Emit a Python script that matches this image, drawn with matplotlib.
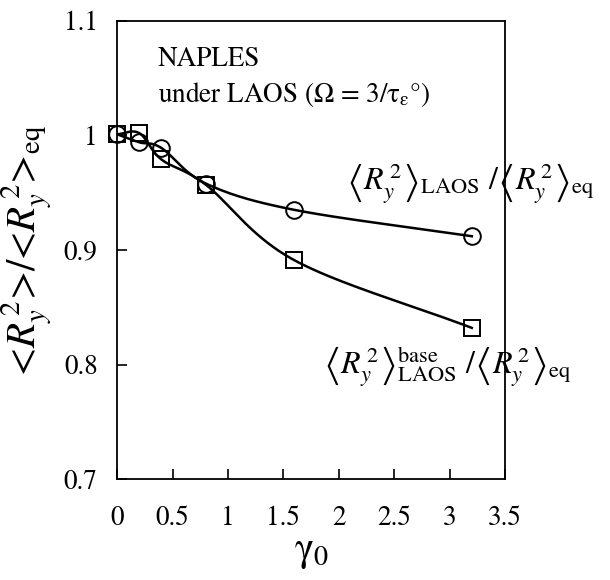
import numpy as np
import matplotlib
matplotlib.use('Agg')
import matplotlib.pyplot as plt

plt.rcParams['font.family'] = ['STIXGeneral', 'DejaVu Serif']
plt.rcParams['mathtext.fontset'] = 'stix'

# data
gamma0 = [0.0, 0.2, 0.4, 0.8, 1.6, 3.2]
ratio_laos = [1.001, 0.994, 0.989, 0.958, 0.935, 0.912]
ratio_base = [1.001, 1.002, 0.979, 0.957, 0.891, 0.832]

xticks = [0, 0.5, 1, 1.5, 2, 2.5, 3, 3.5]
xticklabels = ['0', '0.5', '1', '1.5', '2', '2.5', '3', '3.5']
yticks = [0.7, 0.8, 0.9, 1.0, 1.1]
yticklabels = ['0.7', '0.8', '0.9', '1', '1.1']


def smooth_line(x, y, n=40):
    # Catmull-Rom style smoothed line through the points (like a spreadsheet "smooth line")
    p = np.column_stack([x, y]).astype(float)
    p = np.vstack([p[0] - (p[1] - p[0]), p, p[-1] + (p[-1] - p[-2])])
    out = []
    t = np.linspace(0, 1, n)[:, None]
    for k in range(1, len(p) - 2):
        p0, p1, p2, p3 = p[k - 1], p[k], p[k + 1], p[k + 2]
        seg = 0.5 * ((2 * p1) + (-p0 + p2) * t + (2 * p0 - 5 * p1 + 4 * p2 - p3) * t**2
                     + (-p0 + 3 * p1 - 3 * p2 + p3) * t**3)
        out.append(seg)
    out = np.vstack(out)
    return out[:, 0], out[:, 1]


fig = plt.figure(figsize=(6.1, 5.8), dpi=100)
ax = fig.add_axes([0.192, 0.174, 0.636, 0.790])

sx, sy = smooth_line(gamma0, ratio_laos)
ax.plot(sx, sy, color='black', lw=1.8)
sx, sy = smooth_line(gamma0, ratio_base)
ax.plot(sx, sy, color='black', lw=1.8)
ax.plot(gamma0, ratio_laos, 'o', ms=12, mfc='none', mec='black', mew=1.4, clip_on=False)
ax.plot(gamma0, ratio_base, 's', ms=11.5, mfc='none', mec='black', mew=1.4, clip_on=False)

ax.set_xlim(0, 3.5)
ax.set_ylim(0.7, 1.1)
ax.set_xticks(xticks)
ax.set_xticklabels(xticklabels)
ax.set_yticks(yticks)
ax.set_yticklabels(yticklabels)
ax.tick_params(direction='in', length=7, width=1.2, labelsize=19.5)
ax.tick_params(axis='x', pad=19)
ax.tick_params(axis='y', pad=14)
for s in ax.spines.values():
    s.set_linewidth(1.3)

ax.set_xlabel('γ$_\\mathregular{0}$', fontsize=29, labelpad=2)
ax.set_ylabel('<$R_y^{\\,2}$>/<$R_y^{\\,2}$>$_\\mathregular{eq}$', fontsize=29.5, labelpad=6)

ax.text(0.105, 0.916, 'NAPLES', transform=ax.transAxes, fontsize=19.5,
        va='center', ha='left')
ax.text(0.105, 0.840, 'under LAOS (Ω = 3/τ$_\\mathregular{ε}$°)',
        transform=ax.transAxes, fontsize=19.5, va='center', ha='left')
ax.text(0.59, 0.645,
        r'$\left\langle R_y^{\,2}\right\rangle_{\rm LAOS}\ /\left\langle R_y^{\,2}\right\rangle_{\rm eq}$',
        transform=ax.transAxes, fontsize=23, va='center', ha='left')
ax.text(0.53, 0.245,
        r'$\left\langle R_y^{\,2}\right\rangle_{\rm LAOS}^{\rm base}\ /\left\langle R_y^{\,2}\right\rangle_{\rm eq}$',
        transform=ax.transAxes, fontsize=23, va='center', ha='left')

fig.savefig('out.png', dpi=100)
